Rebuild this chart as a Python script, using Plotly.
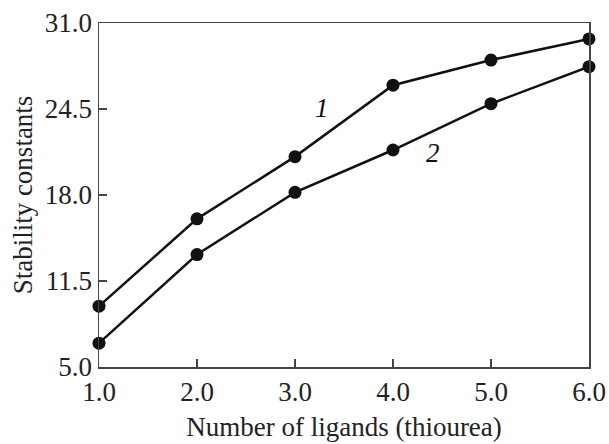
import plotly.graph_objects as go

ligands = [1.0, 2.0, 3.0, 4.0, 5.0, 6.0]
series1 = [9.6, 16.2, 20.9, 26.3, 28.2, 29.8]
series2 = [6.8, 13.5, 18.2, 21.4, 24.9, 27.7]
x_ticks = [1.0, 2.0, 3.0, 4.0, 5.0, 6.0]
y_ticks = [5.0, 11.5, 18.0, 24.5, 31.0]
curve_labels = ["1", "2"]
label_pos_x = [3.28, 4.41]
label_pos_y = [24.6, 21.2]

FONT = "Liberation Serif, Times New Roman, Times, serif"
FS = 27
fig = go.Figure()
for ys in (series1, series2):
    fig.add_trace(go.Scatter(
        x=ligands, y=ys, mode="lines+markers",
        line=dict(color="#111111", width=2.5),
        marker=dict(color="#111111", size=13),
        showlegend=False, cliponaxis=False, hoverinfo="skip",
    ))
for t, lx, ly in zip(curve_labels, label_pos_x, label_pos_y):
    fig.add_annotation(x=lx, y=ly, text=f"<i>{t}</i>", showarrow=False,
                       font=dict(family=FONT, size=FS, color="#111111"))

axis_common = dict(
    showgrid=False, zeroline=False, showline=True, linecolor="#444444",
    linewidth=1.5, mirror=True, ticks="inside", ticklen=8, tickwidth=1.2,
    tickcolor="#444444", tickfont=dict(family=FONT, size=FS, color="#222222"),
    automargin=False,
)
fig.update_xaxes(range=[1, 6], tickvals=x_ticks,
                 ticktext=[f"{v:.1f}" for v in x_ticks],
                 title=dict(text="Number of ligands (thiourea)",
                            font=dict(family=FONT, size=FS, color="#222222"), standoff=11),
                 **axis_common)
fig.update_yaxes(range=[5, 31], tickvals=y_ticks,
                 ticktext=[f"{v:.1f}" for v in y_ticks],
                 title=dict(text="Stability constants",
                            font=dict(family=FONT, size=FS, color="#222222"), standoff=4),
                 **axis_common)
fig.update_layout(width=609, height=444, margin=dict(l=99, r=20, t=23, b=77),
                  plot_bgcolor="white", paper_bgcolor="white")
fig.write_html("out.html", config={"displayModeBar": False, "staticPlot": True},
               post_script="document.body.style.margin='0';document.body.style.overflow='hidden';")
